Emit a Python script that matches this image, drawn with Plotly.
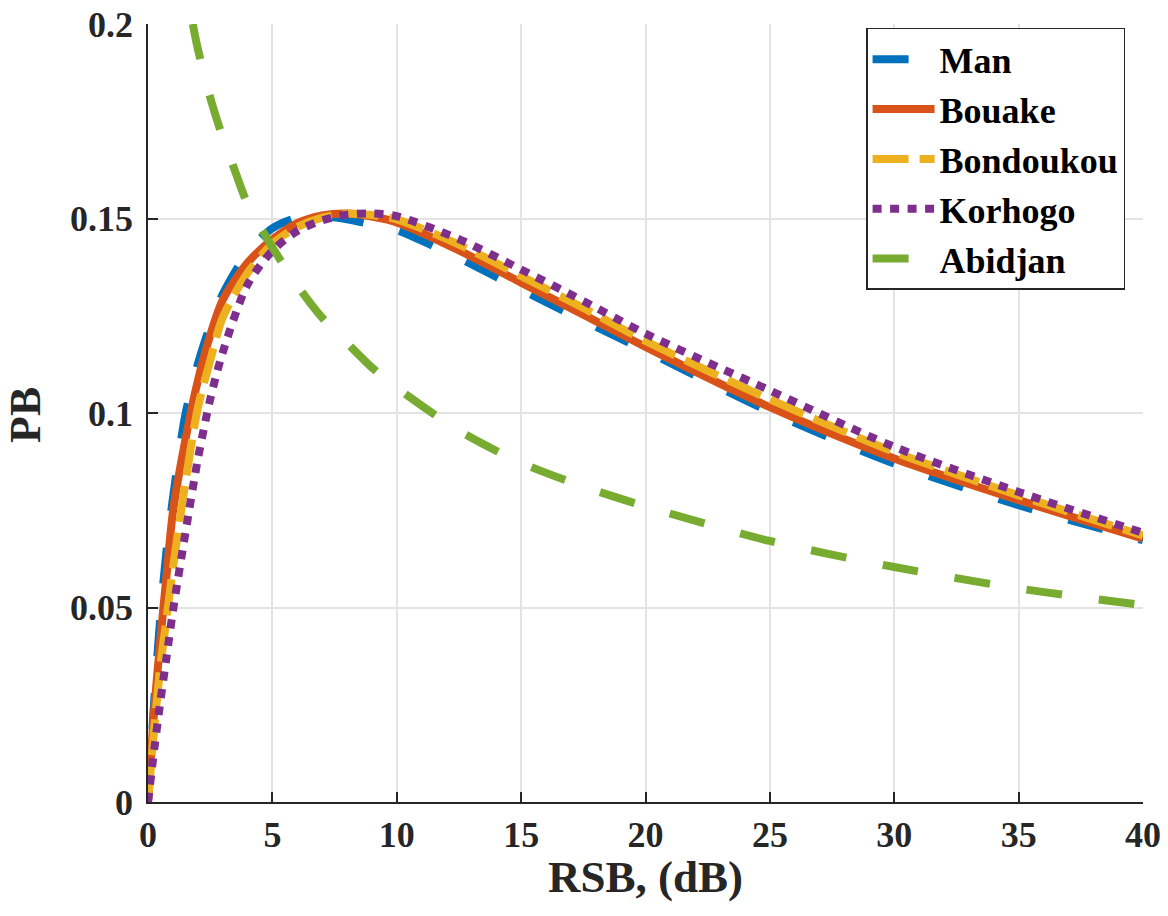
import plotly.graph_objects as go

# ---- data ----
rsb_db = [0, 0.25, 0.5, 0.75, 1, 1.5, 2, 2.5, 3, 4, 5, 6, 7, 8, 9, 10,
          12.5, 15, 17.5, 20, 25, 30, 35, 40]

pb_man = [0, 0.026, 0.048, 0.065, 0.078, 0.0995, 0.1125, 0.1225, 0.1305, 0.1412,
          0.1475, 0.1502, 0.1506, 0.1498, 0.1485, 0.147, 0.1398, 0.1317, 0.1238,
          0.116, 0.1003, 0.087, 0.0763, 0.0673]

pb_bouake = [0, 0.0237, 0.0418, 0.0585, 0.0745, 0.093, 0.1082, 0.12, 0.129, 0.1386,
             0.1446, 0.1488, 0.1508, 0.1513, 0.1505, 0.149, 0.1418, 0.1335, 0.1253,
             0.117, 0.1015, 0.0883, 0.0776, 0.0677]

pb_bondoukou = [0, 0.019, 0.035, 0.0475, 0.06, 0.082, 0.1012, 0.1135, 0.1245, 0.136,
                0.1435, 0.1478, 0.1502, 0.1512, 0.1509, 0.1498, 0.1433, 0.1352, 0.127,
                0.1185, 0.1035, 0.09, 0.0788, 0.0685]

pb_korhogo = [0, 0.0135, 0.026, 0.0375, 0.049, 0.069, 0.088, 0.1035, 0.1155, 0.133,
              0.1417, 0.1468, 0.1495, 0.151, 0.1513, 0.1506, 0.1447, 0.1369, 0.1288,
              0.1204, 0.1058, 0.0913, 0.0797, 0.0692]

rsb_db_abidjan = [1.8, 2, 2.5, 3, 3.5, 4, 5, 6, 7, 8, 9, 10, 12.5, 15, 17.5, 20,
                  25, 30, 35, 40]
pb_abidjan = [0.2, 0.1937, 0.1811, 0.1709, 0.1622, 0.1538, 0.1426, 0.1328, 0.1245,
              0.118, 0.1117, 0.1065, 0.0955, 0.0872, 0.0811, 0.076, 0.0671, 0.0604,
              0.0549, 0.0506]

x_ticks = [0, 5, 10, 15, 20, 25, 30, 35, 40]
y_ticks = [0, 0.05, 0.1, 0.15, 0.2]
y_tick_text = ["0", "0.05", "0.1", "0.15", "0.2"]
x_title = "RSB, (dB)"
y_title = "PB"

FONT = "Liberation Serif, Times New Roman, serif"
AX = "#262626"

fig = go.Figure()

series = [
    ("Man", rsb_db, pb_man, "#0072BD", "36px,37px", 8),
    ("Bouake", rsb_db, pb_bouake, "#D95319", "solid", 8),
    ("Bondoukou", rsb_db, pb_bondoukou, "#EDB120", "36px,11px", 8),
    ("Korhogo", rsb_db, pb_korhogo, "#7E2F8E", "9px,8.5px", 8),
    ("Abidjan", rsb_db_abidjan, pb_abidjan, "#77AC30", "36px,37px", 8),
]
for name, xs, ys, color, dash, w in series:
    fig.add_trace(go.Scatter(
        x=xs, y=ys, mode="lines", name=name,
        line=dict(color=color, width=w, dash=dash, shape="spline", smoothing=0.8),
    ))

axis_common = dict(
    showline=True, linecolor=AX, linewidth=1.5, mirror=False,
    ticks="inside", ticklen=10, tickwidth=1.5, tickcolor=AX,
    showgrid=True, gridcolor="#e3e3e3", gridwidth=1.5, zeroline=False,
    automargin=False, ticklabeloverflow="allow",
    tickfont=dict(family=FONT, size=36, color=AX, weight="bold"),
)

fig.update_xaxes(range=[0, 40], tickvals=x_ticks, **axis_common)
fig.update_yaxes(range=[0, 0.2], tickvals=y_ticks, ticktext=y_tick_text,
                 ticklabelstandoff=6, **axis_common)

# axis titles placed as annotations for exact positioning
fig.add_annotation(text=x_title, xref="paper", yref="paper", x=0.4995, y=-0.097,
                   xanchor="center", yanchor="middle", showarrow=False,
                   font=dict(family=FONT, size=45, color=AX, weight="bold"))
fig.add_annotation(text=y_title, xref="paper", yref="paper", x=-0.123, y=0.497,
                   xanchor="center", yanchor="middle", showarrow=False, textangle=-90,
                   font=dict(family=FONT, size=44, color=AX, weight="bold"))

fig.update_layout(
    width=1168, height=916,
    margin=dict(l=148, r=25, t=24, b=114),
    paper_bgcolor="white", plot_bgcolor="white",
    legend=dict(
        x=0.982, y=0.995, xanchor="right", yanchor="top",
        bgcolor="white", bordercolor=AX, borderwidth=1.5,
        font=dict(family=FONT, size=36, color="black", weight="bold"),
        itemwidth=62,
    ),
    showlegend=True,
)

# remove the default 8px page margin so the figure fills the window exactly
fig.write_html("out.html",
               config={"displayModeBar": False},
               post_script="document.body.style.margin='0';document.body.style.overflow='hidden';")
